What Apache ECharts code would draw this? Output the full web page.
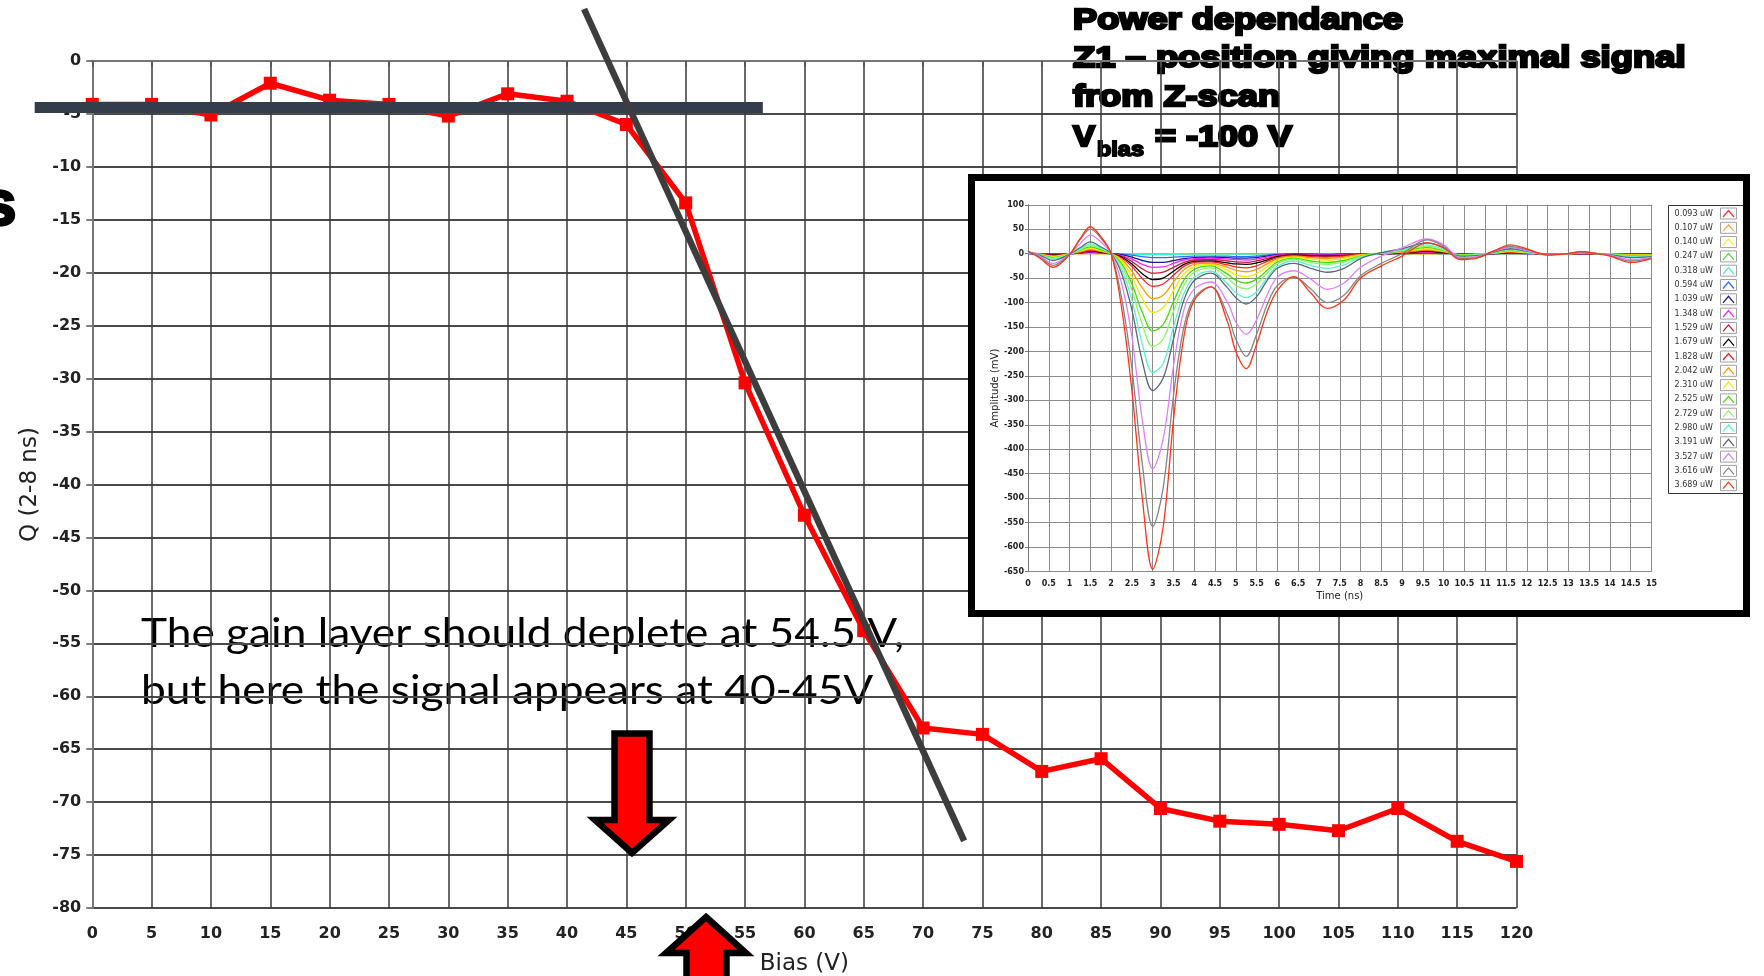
<!DOCTYPE html>
<html><head><meta charset="utf-8">
<script src="https://cdn.jsdelivr.net/npm/echarts@6/dist/echarts.min.js"></script>
<style>html,body{margin:0;padding:0;background:#fff;overflow:hidden}#c{width:1764px;height:976px}</style>
</head><body><div id="c"></div>
<script>
// ---------- main chart data ----------
const biasV = [0,5,10,15,20,25,30,35,40,45,50,55,60,65,70,75,80,85,90,95,100,105,110,115,120];
const chargeQ = [-4.1,-4.1,-5.1,-2.1,-3.7,-4.1,-5.2,-3.1,-3.8,-6.0,-13.4,-30.4,-42.9,-53.8,-63.0,-63.6,-67.1,-65.9,-70.6,-71.8,-72.1,-72.7,-70.6,-73.7,-75.6];
const fitFlat = [[-4.85,-4.39],[56.5,-4.39]];
const fitSlope = [[41.44,4.91],[73.46,-73.66]];

// ---------- inset data (waveforms) ----------
const timeNs = [0,0.3,0.6,1,1.25,1.5,1.75,2, 2.25,2.5,2.75,3,3.25,3.5,3.75,4, 4.4,4.8,5,5.25,5.5,5.75,6, 6.4,6.8,7.2,7.6,8, 8.5,9,9.6,10,10.4,10.8, 11.2,11.6,12,12.5,13, 13.3,13.7,14,14.5,15];
const powerLabels = ['0.093 uW','0.107 uW','0.140 uW','0.247 uW','0.318 uW','0.594 uW','1.039 uW','1.348 uW','1.529 uW','1.679 uW','1.828 uW','2.042 uW','2.310 uW','2.525 uW','2.729 uW','2.980 uW','3.191 uW','3.527 uW','3.616 uW','3.689 uW'];
const w0093 = [0,0,0,0,0,0,0,0, 0,0,0,0,0,0,0,0, 0,0,0,0,0,0,0, 0,0,0,0,0, 0,0,0,0,0,0, 0,0,0,0,0, 0,0,0,0,0];
const w0107 = [0,0,0,0,0,1,0,0, 0,0,0,0,0,0,0,0, 0,0,0,0,0,0,0, 0,0,0,0,0, 0,0,0,0,0,0, 0,0,0,0,0, 0,0,0,0,0];
const w0140 = [0,0,0,0,0,1,0,0, 0,0,-1,-1,-1,0,0,0, 0,0,0,0,0,0,0, 0,0,0,0,0, 0,0,0,0,0,0, 0,0,0,0,0, 0,0,0,0,0];
const w0247 = [0,0,0,0,1,2,1,0, 0,-1,-1,-1,-1,-1,-1,0, 0,0,0,0,0,0,0, 0,0,0,0,0, 0,0,0,0,0,0, 0,0,0,0,0, 0,0,0,0,0];
const w0318 = [0,0,0,0,1,2,1,0, 0,-1,-2,-2,-2,-2,-1,-1, -1,-1,-1,-1,-1,0,0, 0,0,0,0,0, 0,0,1,0,0,0, 0,0,0,0,0, 0,0,0,0,0];
const w0594 = [0,0,-1,0,1,2,1,0, -1,-3,-6,-8,-8,-7,-6,-5, -5,-5,-6,-6,-5,-3,-1, 0,-1,-1,0,0, 0,0,1,0,0,0, 0,0,0,0,0, 0,0,0,0,0];
const w1039 = [0,0,-1,0,1,3,2,0, -2,-7,-14,-18,-18,-14,-10,-8, -7,-8,-9,-9,-8,-5,-2, -1,-1,-2,-1,0, 0,0,2,1,0,0, 0,1,0,0,0, 0,0,0,0,0];
const w1348 = [1,0,-2,0,2,4,2,0, -4,-11,-22,-28,-27,-20,-13,-10, -9,-11,-12,-13,-11,-7,-3, -2,-2,-3,-2,0, 0,1,3,1,0,0, 0,1,0,0,0, 0,0,0,0,0];
const w1529 = [1,-1,-2,0,2,5,3,0, -5,-16,-31,-40,-38,-28,-18,-13, -12,-15,-17,-18,-15,-10,-5, -2,-3,-4,-3,-1, 0,1,4,2,-1,0, 0,2,1,0,0, 0,0,0,-1,-1];
const w1679 = [1,-1,-3,0,3,6,3,0, -7,-21,-41,-53,-50,-36,-22,-16, -15,-19,-21,-22,-19,-13,-6, -3,-4,-5,-4,-1, 0,1,5,2,-1,0, 0,2,1,0,0, 0,0,0,-1,-1];
const w1828 = [1,-1,-4,0,3,7,4,0, -9,-26,-51,-67,-62,-44,-26,-18, -17,-23,-27,-29,-25,-16,-8, -4,-6,-7,-5,-1, 0,2,6,3,-1,-1, 1,3,1,0,0, 0,0,0,-1,-1];
const w2042 = [2,-1,-5,0,4,9,5,0, -12,-36,-70,-92,-85,-58,-33,-22, -20,-28,-34,-37,-32,-21,-10, -5,-8,-10,-7,-2, 1,3,8,4,-2,-1, 1,4,2,0,0, 1,0,0,-2,-2];
const w2310 = [2,-2,-6,0,5,11,6,0, -15,-47,-92,-120,-110,-75,-42,-27, -22,-34,-43,-47,-41,-27,-13, -7,-11,-13,-10,-3, 1,4,10,5,-2,-1, 1,5,2,0,0, 1,0,-1,-3,-2];
const w2525 = [2,-2,-8,-1,7,14,8,0, -20,-62,-120,-158,-145,-98,-54,-32, -25,-42,-54,-60,-52,-34,-17, -9,-15,-18,-14,-5, 1,5,13,6,-3,-2, 2,7,3,-1,0, 1,0,-1,-4,-3];
const w2729 = [3,-3,-9,-1,8,17,10,0, -25,-75,-145,-190,-175,-118,-65,-38, -29,-50,-65,-72,-62,-40,-20, -11,-18,-22,-17,-6, 1,6,15,7,-3,-2, 2,8,3,-1,0, 1,0,-1,-5,-4];
const w2980 = [3,-3,-11,-1,10,20,12,0, -32,-95,-185,-243,-225,-150,-82,-48, -36,-62,-80,-90,-78,-50,-26, -15,-24,-30,-23,-8, 1,8,18,9,-4,-3, 2,9,4,-1,0, 2,0,-2,-6,-5];
const w3191 = [4,-4,-14,-1,12,24,14,0, -40,-115,-220,-280,-255,-175,-95,-55, -40,-70,-90,-103,-88,-55,-30, -20,-30,-38,-30,-10, 2,10,22,12,-5,-4, 3,10,5,-1,0, 2,0,-2,-8,-6];
const w3527 = [4,-6,-20,-1,20,38,24,0, -60,-170,-340,-440,-380,-230,-115,-72, -58,-100,-140,-165,-135,-85,-48, -35,-52,-73,-60,-28, -5,12,30,18,-8,-6, 4,13,6,-2,0, 3,0,-3,-12,-8];
const w3616 = [5,-8,-24,-1,28,50,32,0, -90,-235,-430,-558,-480,-290,-150,-90, -68,-125,-175,-210,-165,-105,-65, -48,-72,-100,-85,-45, -20,0,28,15,-10,-8, 5,15,8,-2,0, 4,0,-4,-15,-9];
const w3689 = [5,-10,-28,-2,30,55,35,0, -110,-280,-500,-645,-560,-340,-170,-95, -68,-140,-200,-235,-185,-120,-75, -47,-80,-112,-95,-50, -25,-5,22,12,-12,-9, 5,18,10,-3,0, 4,0,-5,-18,-10];
const waveList = [w0093,w0107,w0140,w0247,w0318,w0594,w1039,w1348,w1529,w1679,w1828,w2042,w2310,w2525,w2729,w2980,w3191,w3527,w3616,w3689];
const waveColors = ['#ff3030','#ffa64d','#ffee33','#44dd33','#44f0c0','#2f6cff','#1c1c8c','#ff22ff','#c81e3c','#000000','#ff2020','#ff9a00','#ffe600','#3fe000','#8cf56a','#5cf5c8','#5a687c','#e080ff','#858585','#ff3515'];

// ---------- layout helpers ----------
const mctx = document.createElement('canvas').getContext('2d');
function measure(text, font){ mctx.font = font; return mctx.measureText(text).width; }

const titleFont = 'bold 30px "Liberation Sans"';
const subFont = 'bold 21px "Liberation Sans"';
const noteFont = '40px Lato';

const chart = echarts.init(document.getElementById('c'), null, {renderer:'canvas', width:1764, height:976});

const inGrid = {left:1028, right:112.5, top:204.75, bottom:404.5};

const series = [];
series.push({
  type:'line', xAxisIndex:0, yAxisIndex:0, z:3, silent:true,
  data: biasV.map((v,i)=>[v, chargeQ[i]]),
  symbol:'rect', symbolSize:13,
  lineStyle:{color:'#ff0000', width:5.5}, itemStyle:{color:'#ff0000'}
});
waveList.forEach((w, k) => {
  series.push({
    type:'line', name: powerLabels[k], xAxisIndex:1, yAxisIndex:1, z:22, silent:true,
    data: timeNs.map((t,i)=>[t, w[i]]), symbol:'none', smooth:0.35,
    lineStyle:{color: waveColors[k], width:1.3}
  });
});

// legend drawn as graphic, built from labels & colours
const legendEls = [];
legendEls.push({type:'rect', z:21, shape:{x:1668.5, y:205.5, width:80, height:288}, style:{fill:'#fff', stroke:'#333', lineWidth:1}});
powerLabels.forEach((lab, i) => {
  const cy = 213.5 + i*14.3;
  legendEls.push({type:'text', z:23, x:1713, y:cy, style:{text:lab, font:'8px "DejaVu Sans"', fill:'#333', align:'right', verticalAlign:'middle'}});
  legendEls.push({type:'rect', z:23, shape:{x:1720.5, y:cy-5.5, width:16, height:11}, style:{fill:'#fff', stroke:'#a0a0a0', lineWidth:1}});
  legendEls.push({type:'polyline', z:24, shape:{points:[[1723,cy+3.5],[1728.5,cy-3],[1734,cy+3.5]]}, style:{fill:null, stroke:waveColors[i], lineWidth:1.3}});
});

// title text (drawn below the grid lines, as in the slide)
const titleLines = [
  {t:'Power dependance', w:330, m:21},
  {t:'Z1 \u2013 position giving maximal signal', w:612.5, m:59},
  {t:'from Z-scan', w:207, m:98}
];
const tStyle = {font:titleFont, fill:'#000', stroke:'#000', lineWidth:2.4, align:'left', verticalAlign:'middle'};
const titleEls = titleLines.map(L => ({type:'text', z:0, x:1073, y:L.m, scaleX: L.w/measure(L.t, titleFont),
  style:Object.assign({text:L.t}, tStyle)}));
titleEls.push({type:'text', z:0, x:1073, y:138, scaleX:22/measure('V', titleFont), style:Object.assign({text:'V'}, tStyle)});
titleEls.push({type:'text', z:0, x:1097, y:150, scaleX:47/measure('bias', subFont), style:Object.assign({}, tStyle, {text:'bias', font:subFont, lineWidth:1.8})});
titleEls.push({type:'text', z:0, x:1155, y:138, scaleX:137/measure('= -100 V', titleFont), style:Object.assign({text:'= -100 V'}, tStyle)});

// annotation
const note1 = 'The gain layer should deplete at 54.5 V,';
const note2 = 'but here the signal appears at 40-45V';
const noteScale = 763/measure(note1, noteFont);
const noteEls = [
  {type:'text', z:0, x:141, y:647 - 0.32*40, scaleX:noteScale, style:{text:note1, font:noteFont, fill:'#000', align:'left', verticalAlign:'middle'}},
  {type:'text', z:0, x:141, y:704 - 0.32*40, scaleX:noteScale, style:{text:note2, font:noteFont, fill:'#000', align:'left', verticalAlign:'middle'}}
];

const arrows = [
  {type:'polygon', z:26, shape:{points:[[614.5,733.5],[649.5,733.5],[649.5,820],[669,820],[632,853],[595,820],[614.5,820]]}, style:{fill:'#ff0000', stroke:'#000', lineWidth:6.5, lineJoin:'miter'}},
  {type:'polygon', z:26, shape:{points:[[706,917],[746,953],[726.5,953],[726.5,995],[686.5,995],[686.5,953],[666,953]]}, style:{fill:'#ff0000', stroke:'#000', lineWidth:6.5, lineJoin:'miter'}}
];

const extras = [
  {type:'text', z:25, x:-19, y:207, style:{text:'s', font:'bold 64px "Liberation Sans"', fill:'#000', stroke:'#000', lineWidth:2.5, align:'left', verticalAlign:'middle'}},
  {type:'rect', z:20, shape:{x:971.5, y:177.5, width:775, height:436}, style:{fill:'#fff', stroke:null}},
  {type:'rect', z:30, shape:{x:971.5, y:177.5, width:775, height:436}, style:{fill:null, stroke:'#000', lineWidth:7}}
];

const tickFontMain = {fontFamily:'DejaVu Sans', fontWeight:'bold', fontSize:16, color:'#222'};
const tickFontIn = {fontFamily:'DejaVu Sans', fontWeight:'bold', fontSize:8, color:'#222'};

const baseOption = {
  animation:false,
  backgroundColor:'#fff',
  grid:[
    {left:92.25, right:247.5, top:61, bottom:68, containLabel:false, outerBoundsMode:'none'},
    {left:inGrid.left, right:inGrid.right, top:inGrid.top, bottom:inGrid.bottom, containLabel:false, outerBoundsMode:'none'}
  ],
  xAxis:[
    {type:'value', gridIndex:0, min:0, max:120, interval:5, z:1,
     name:'Bias (V)', nameLocation:'middle', nameGap:45, nameTextStyle:{fontFamily:'DejaVu Sans', fontSize:23, color:'#222'},
     axisLine:{show:true, lineStyle:{color:'#777', width:2}},
     axisTick:{show:true, length:6, lineStyle:{color:'#555', width:1.5}},
     axisLabel:Object.assign({margin:18}, tickFontMain),
     splitLine:{show:true, lineStyle:{color:'#3a3a3a', width:1.5}}},
    {type:'value', gridIndex:1, min:0, max:15, interval:0.5, z:21,
     name:'Time (ns)', nameLocation:'middle', nameGap:20, nameTextStyle:{fontFamily:'DejaVu Sans', fontSize:10, color:'#222'},
     axisLine:{show:true, lineStyle:{color:'#777', width:1}},
     axisTick:{show:true, length:3, lineStyle:{color:'#777'}},
     axisLabel:Object.assign({margin:8}, tickFontIn),
     splitLine:{show:true, lineStyle:{color:'#8c8c8c', width:1}}}
  ],
  yAxis:[
    {type:'value', gridIndex:0, min:-80, max:0, interval:5, z:1,
     name:'Q (2-8 ns)', nameLocation:'middle', nameGap:50, nameRotate:90, nameTextStyle:{fontFamily:'DejaVu Sans', fontSize:23, color:'#222'},
     axisLine:{show:true, lineStyle:{color:'#777', width:2}},
     axisTick:{show:true, length:6, lineStyle:{color:'#555', width:1.5}},
     axisLabel:Object.assign({margin:11}, tickFontMain),
     splitLine:{show:true, lineStyle:{color:'#4a4a4a', width:2}}},
    {type:'value', gridIndex:1, min:-650, max:100, interval:50, z:21,
     name:'Amplitude (mV)', nameLocation:'middle', nameGap:28, nameRotate:90, nameTextStyle:{fontFamily:'DejaVu Sans', fontSize:10, color:'#222'},
     axisLine:{show:true, lineStyle:{color:'#777', width:1}},
     axisTick:{show:true, length:3, lineStyle:{color:'#777'}},
     axisLabel:Object.assign({margin:4}, tickFontIn),
     splitLine:{show:true, lineStyle:{color:'#8c8c8c', width:1}}}
  ],
  series: series
};
chart.setOption(baseOption);

// fit lines: converted through the main grid's scales (they extend past the axes)
const toPx = p => chart.convertToPixel({xAxisIndex:0, yAxisIndex:0}, p);
const fitEls = [
  {type:'line', z:4, shape:{x1:toPx(fitFlat[0])[0], y1:toPx(fitFlat[0])[1], x2:toPx(fitFlat[1])[0], y2:toPx(fitFlat[1])[1]}, style:{stroke:'#333d4c', lineWidth:11, lineCap:'butt'}},
  {type:'line', z:5, shape:{x1:toPx(fitSlope[0])[0], y1:toPx(fitSlope[0])[1], x2:toPx(fitSlope[1])[0], y2:toPx(fitSlope[1])[1]}, style:{stroke:'#3d3d3d', lineWidth:6.5, lineCap:'butt'}}
];

chart.setOption(Object.assign({}, baseOption, {graphic: extras.concat(fitEls, legendEls, titleEls, noteEls, arrows)}), true);
</script>
</body></html>
